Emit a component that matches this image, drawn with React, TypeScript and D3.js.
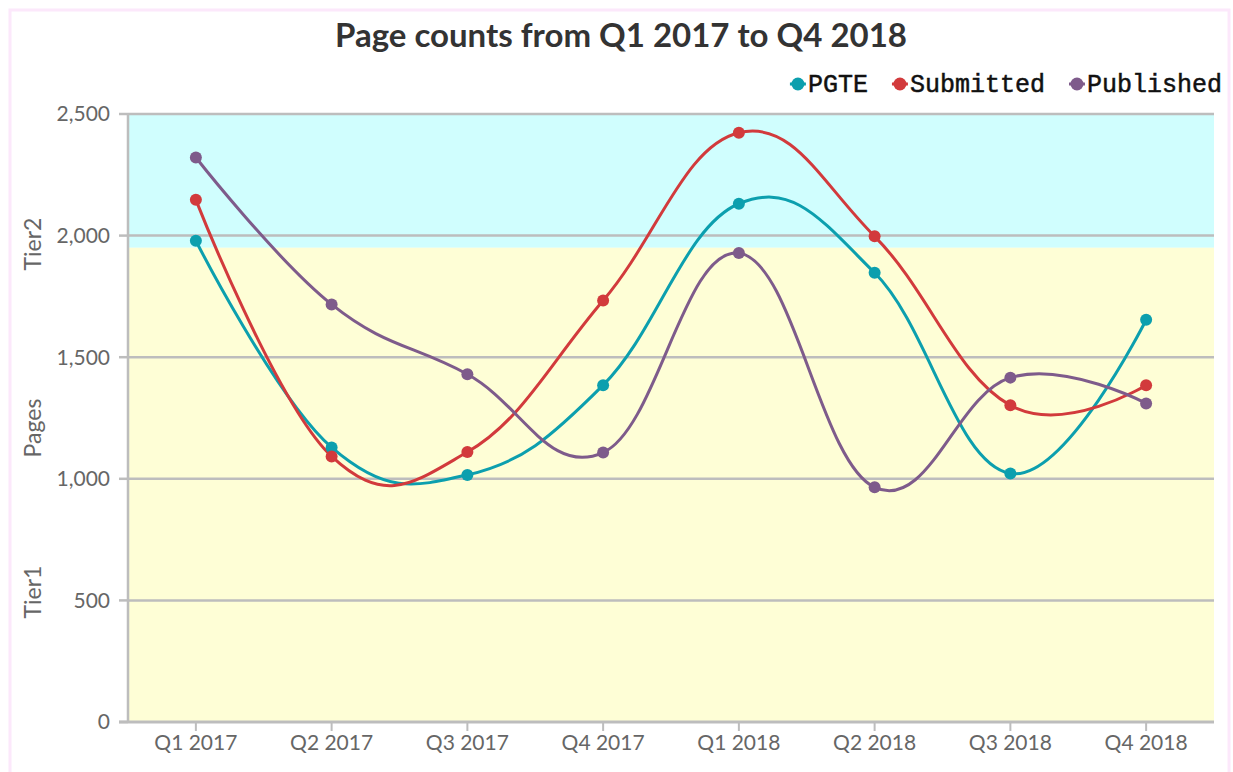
import { useEffect, useRef } from 'react';
import * as d3 from 'd3';

const quarters = ['Q1 2017', 'Q2 2017', 'Q3 2017', 'Q4 2017', 'Q1 2018', 'Q2 2018', 'Q3 2018', 'Q4 2018'];
const pgte = [1979, 1129, 1016, 1385, 2131, 1847, 1022, 1654];
const submitted = [2147, 1092, 1110, 1733, 2423, 1997, 1302, 1385];
const published = [2321, 1717, 1430, 1108, 1928, 965, 1416, 1310];
const yTicks = [0, 500, 1000, 1500, 2000, 2500];
const tierBreak = 1950;

const series = [
	{ name: 'PGTE', values: pgte, color: '#0c9fae' },
	{ name: 'Submitted', values: submitted, color: '#d23a3c' },
	{ name: 'Published', values: published, color: '#7e5b8b' },
];

// spline curve, control points on a line through each point (no extreme clamping)
const splineCurve = (context: any) => {
	let pts: number[][] = [];
	return {
		areaStart() {},
		areaEnd() {},
		lineStart() {
			pts = [];
		},
		point(x: number, y: number) {
			pts.push([+x, +y]);
		},
		lineEnd() {
			const n = pts.length;
			if (!n) return;
			context.moveTo(pts[0][0], pts[0][1]);
			let lastRight: number[] | null = null;
			for (let i = 1; i < n; i++) {
				const [px, py] = pts[i];
				const [lx, ly] = pts[i - 1];
				let leftX = px,
					leftY = py;
				let right: number[] | null = null;
				if (i < n - 1) {
					const [nx, ny] = pts[i + 1];
					const s = 1.5,
						d = 2.5;
					leftX = (s * px + lx) / d;
					leftY = (s * py + ly) / d;
					const rx = (s * px + nx) / d;
					let ry = (s * py + ny) / d;
					let corr = 0;
					if (rx !== leftX) corr = ((ry - leftY) * (rx - px)) / (rx - leftX) + py - ry;
					leftY += corr;
					ry += corr;
					right = [rx, ry];
				}
				const c1 = lastRight || [lx, ly];
				context.bezierCurveTo(c1[0], c1[1], leftX, leftY, px, py);
				lastRight = right;
			}
		},
	};
};

const App = () => {
	const ref = useRef<SVGSVGElement>(null);

	useEffect(() => {
		const W = 1233,
			H = 772;
		const margin = { top: 114, right: 19, bottom: 50, left: 128 };
		const plotW = W - margin.left - margin.right;
		const plotH = 722 - margin.top;

		const svg = d3.select(ref.current);
		svg.selectAll('*').remove();

		// outer frame
		svg.append('rect').attr('width', W).attr('height', H).attr('fill', '#fff');
		svg
			.append('rect')
			.attr('x', 10)
			.attr('y', 10)
			.attr('width', 1219)
			.attr('height', 820)
			.attr('fill', 'none')
			.attr('stroke', '#fce8fb')
			.attr('stroke-width', 3);

		const x = d3.scaleBand().domain(quarters).range([margin.left, margin.left + plotW]);
		const cx = (q: string) => (x(q) as number) + x.bandwidth() / 2;
		const y = d3.scaleLinear().domain([0, 2500]).range([margin.top + plotH, margin.top]);

		// tier bands
		svg
			.append('rect')
			.attr('x', margin.left)
			.attr('width', plotW)
			.attr('y', y(2500))
			.attr('height', y(tierBreak) - y(2500))
			.attr('fill', '#d0fefe');
		svg
			.append('rect')
			.attr('x', margin.left)
			.attr('width', plotW)
			.attr('y', y(tierBreak))
			.attr('height', y(0) - y(tierBreak))
			.attr('fill', '#fefed6');

		// grid lines + y ticks
		const grid = svg.append('g');
		grid
			.selectAll('line.grid')
			.data(yTicks.filter((t) => t > 0))
			.join('line')
			.attr('x1', margin.left)
			.attr('x2', margin.left + plotW)
			.attr('y1', (d) => y(d))
			.attr('y2', (d) => y(d))
			.attr('stroke', '#bdbdbd')
			.attr('stroke-width', 2.5);
		grid
			.selectAll('line.ytick')
			.data(yTicks)
			.join('line')
			.attr('x1', margin.left - 9)
			.attr('x2', margin.left)
			.attr('y1', (d) => y(d))
			.attr('y2', (d) => y(d))
			.attr('stroke', '#bdbdbd')
			.attr('stroke-width', 2.5);
		grid
			.selectAll('text')
			.data(yTicks)
			.join('text')
			.attr('x', margin.left - 18)
			.attr('y', (d) => y(d))
			.attr('dy', '0.35em')
			.attr('text-anchor', 'end')
			.attr('fill', '#666')
			.style('font-family', 'Lato, sans-serif')
			.style('font-size', '21px')
			.text((d) => d3.format(',')(d));

		// y axis line
		svg
			.append('line')
			.attr('x1', margin.left)
			.attr('x2', margin.left)
			.attr('y1', y(2500))
			.attr('y2', y(0))
			.attr('stroke', '#bdbdbd')
			.attr('stroke-width', 2.5);

		// x axis
		const xAxis = svg.append('g');
		xAxis
			.append('line')
			.attr('x1', margin.left - 9)
			.attr('x2', margin.left + plotW)
			.attr('y1', y(0))
			.attr('y2', y(0))
			.attr('stroke', '#bdbdbd')
			.attr('stroke-width', 3);
		xAxis
			.selectAll('line.xtick')
			.data(quarters)
			.join('line')
			.attr('x1', (d) => cx(d))
			.attr('x2', (d) => cx(d))
			.attr('y1', y(0))
			.attr('y2', y(0) + 9)
			.attr('stroke', '#bdbdbd')
			.attr('stroke-width', 2);
		xAxis
			.selectAll('text')
			.data(quarters)
			.join('text')
			.attr('x', (d) => cx(d))
			.attr('y', y(0) + 28)
			.attr('text-anchor', 'middle')
			.attr('fill', '#666')
			.style('font-family', 'Lato, sans-serif')
			.style('font-size', '21px')
			.text((d) => d);

		// y axis titles
		const midY = margin.top + plotH / 2;
		[
			{ t: 'Tier2', off: -174 },
			{ t: 'Pages', off: 10 },
			{ t: 'Tier1', off: 174 },
		].forEach((a) => {
			svg
				.append('text')
				.attr('transform', `translate(41, ${midY + a.off}) rotate(-90)`)
				.attr('text-anchor', 'middle')
				.attr('fill', '#666')
				.style('font-family', 'Lato, sans-serif')
				.style('font-size', '23px')
				.text(a.t);
		});

		// lines
		const line = d3
			.line<number>()
			.x((_, i) => cx(quarters[i]))
			.y((d) => y(d))
			.curve(splineCurve as any);

		series.forEach((s) => {
			svg
				.append('path')
				.attr('d', line(s.values))
				.attr('fill', 'none')
				.attr('stroke', s.color)
				.attr('stroke-width', 3);
		});
		series.forEach((s) => {
			svg
				.append('g')
				.selectAll('circle')
				.data(s.values)
				.join('circle')
				.attr('cx', (_, i) => cx(quarters[i]))
				.attr('cy', (d) => y(d))
				.attr('r', 6)
				.attr('fill', s.color);
		});

		// title
		svg
			.append('text')
			.attr('x', 621)
			.attr('y', 47)
			.attr('text-anchor', 'middle')
			.attr('fill', '#333')
			.style('font-family', 'Lato, sans-serif')
			.style('font-weight', 'bold')
			.style('font-size', '33px')
			.text('Page counts from Q1 2017 to Q4 2018');

		// legend, right aligned
		const legend = svg.append('g');
		const items = series.map((s) => {
			const g = legend.append('g');
			g.append('line').attr('x1', 0).attr('x2', 16).attr('y1', 0).attr('y2', 0).attr('stroke', s.color).attr('stroke-width', 3);
			g.append('circle').attr('cx', 8).attr('cy', 0).attr('r', 6.5).attr('fill', s.color);
			const t = g
				.append('text')
				.attr('x', 18)
				.attr('dy', '0.32em')
				.attr('fill', '#111')
				.attr('stroke', '#111')
				.attr('stroke-width', 0.5)
				.style('font-family', '"Liberation Mono", monospace')
				.style('font-size', '25px')
				.text(s.name);
			const w = 18 + (t.node() as SVGTextElement).getComputedTextLength();
			return { g, w };
		});
		let lx = 1222 - d3.sum(items, (d) => d.w) - 24 * (items.length - 1);
		items.forEach((it) => {
			it.g.attr('transform', `translate(${lx}, 84)`);
			lx += it.w + 24;
		});
	}, []);

	return <svg ref={ref} width={1233} height={772} style={{ position: 'absolute', left: 0, top: 0 }}></svg>;
};

export default App;
